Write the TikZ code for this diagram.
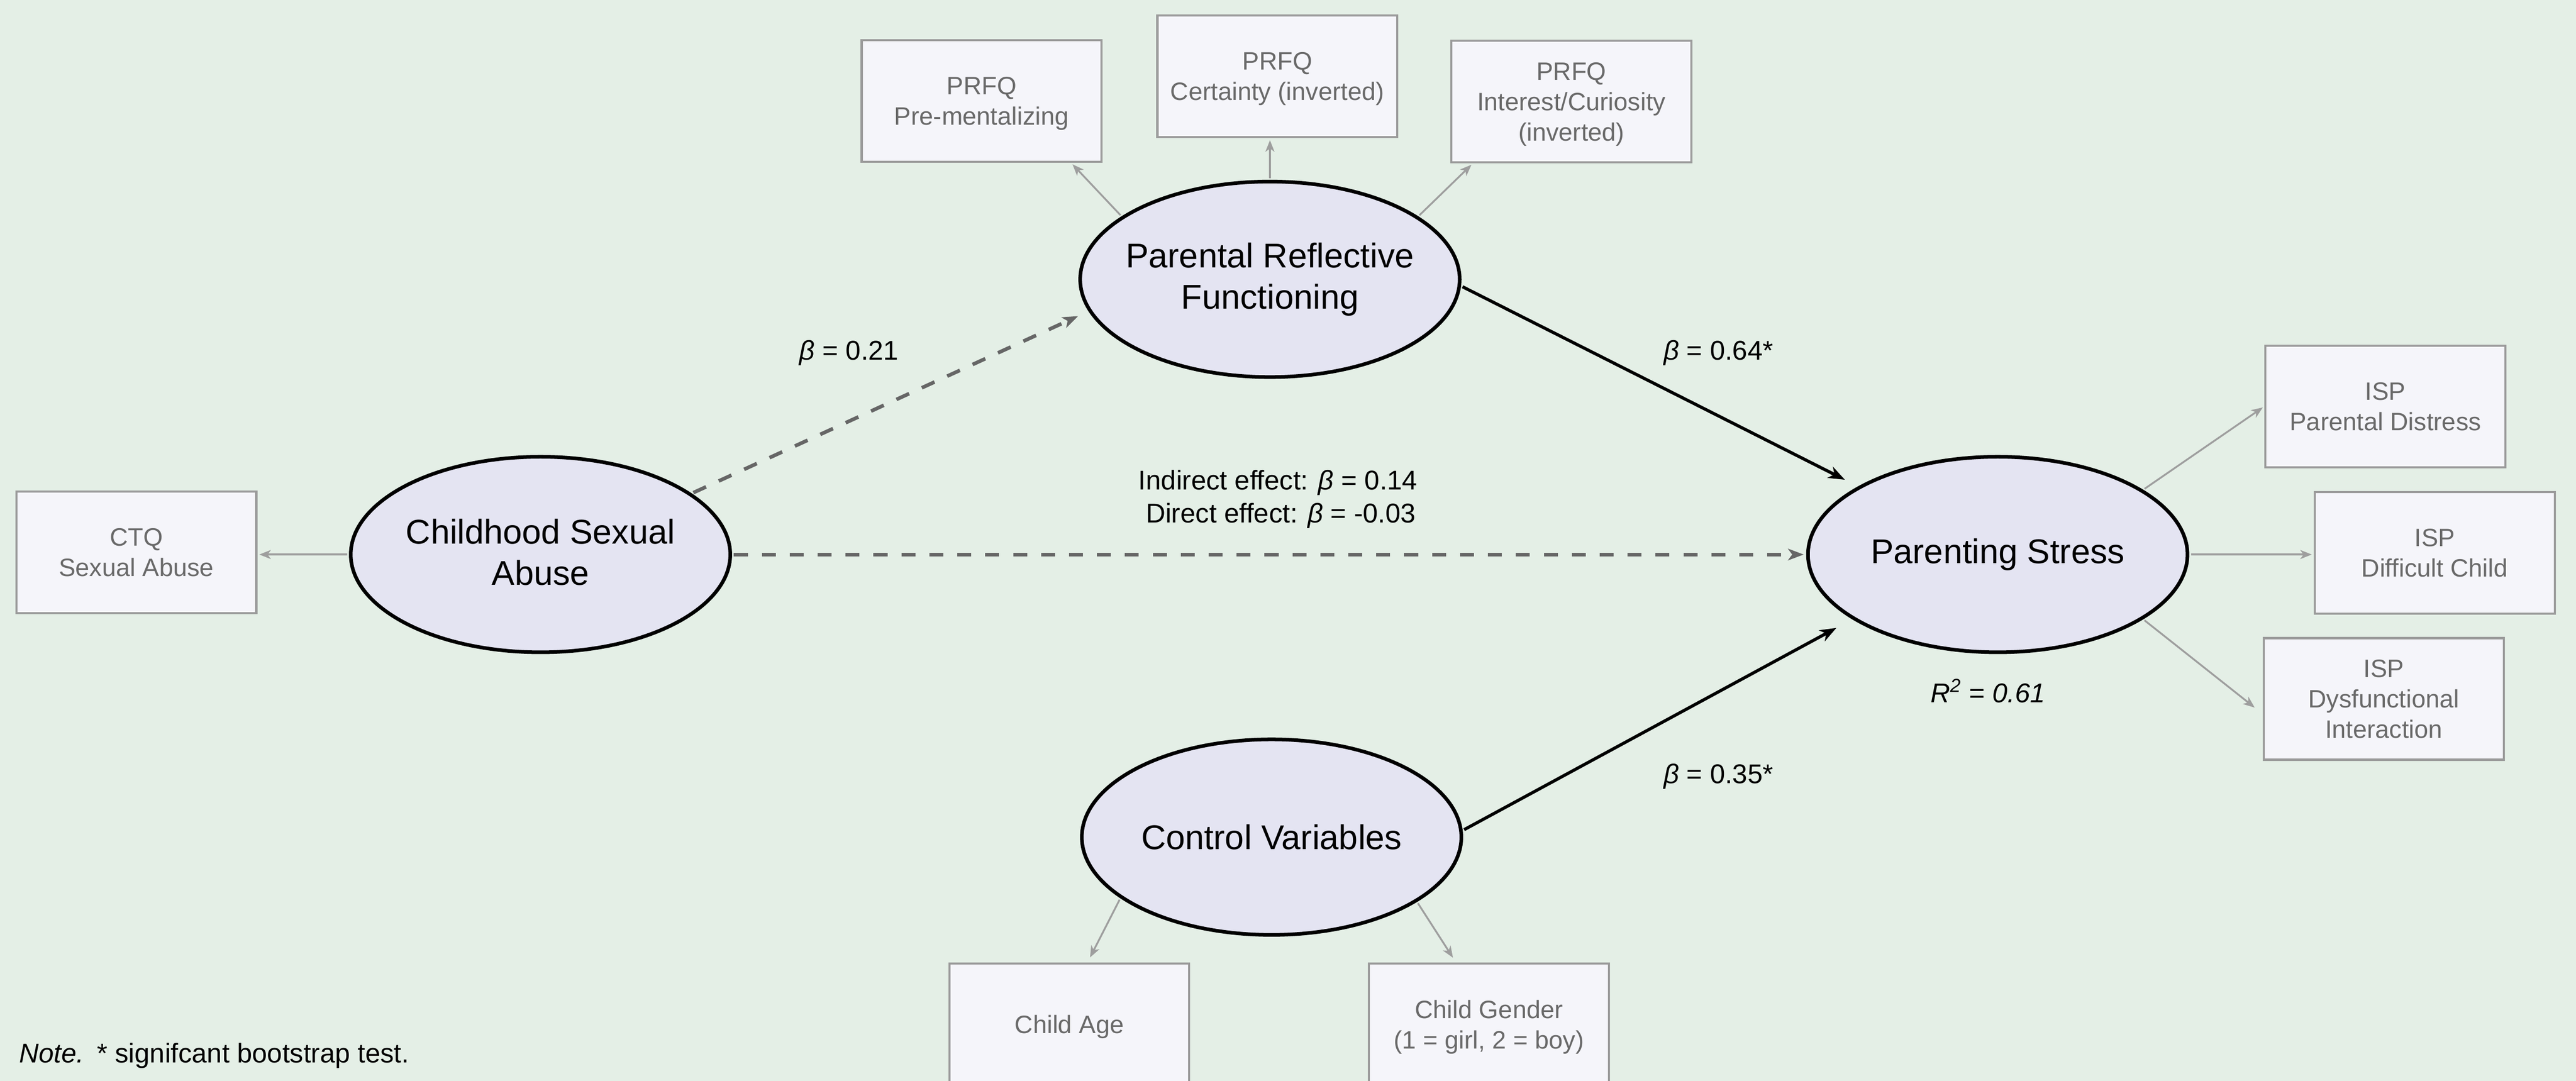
\documentclass[tikz,border=0pt]{standalone}
\usepackage{fontspec}
\setmainfont{Liberation Sans}
\usetikzlibrary{shapes.geometric,arrows.meta,calc}
\definecolor{bgcol}{RGB}{228,239,230}
\definecolor{latfill}{RGB}{228,228,242}
\definecolor{boxfill}{RGB}{245,245,250}
\definecolor{boxline}{RGB}{155,155,155}
\definecolor{boxtext}{RGB}{105,105,105}
\definecolor{arrgrey}{RGB}{158,158,158}
\definecolor{dashcol}{RGB}{102,102,102}
\begin{document}
\begin{tikzpicture}[x=1pt,y=-1pt,
  latent/.style={ellipse, draw=black, line width=2.2pt, fill=latfill,
    minimum width=231pt, minimum height=119pt, inner sep=0pt},
  lattext/.style={font=\fontsize{20.9}{25}\selectfont, align=center,
    inner sep=0pt, text=black},
  obs/.style={rectangle, draw=boxline, line width=1.3pt, fill=boxfill,
    minimum width=146pt, minimum height=74pt, inner sep=0pt, align=center,
    text=boxtext, font=\fontsize{15.3}{18.5}\selectfont, text depth=0pt},
  loadarrow/.style={draw=arrgrey, line width=1.1pt, shorten <=1pt, shorten >=1.2pt,
    -{Stealth[length=7pt,width=5.5pt,inset=2pt]}},
  regpath/.style={draw=black, line width=1.9pt, shorten <=1pt,
    -{Stealth[length=10pt,width=7.5pt,inset=3pt]}},
  dashpath/.style={draw=dashcol, line width=2.2pt, shorten <=1.1pt,
    dash pattern=on 8.5pt off 8.5pt,
    -{Stealth[length=9.5pt,width=7pt,inset=2.5pt]}},
  lab/.style={font=\fontsize{16.5}{20.3}\selectfont, inner sep=0pt, text=black}]

\useasboundingbox (0,0) rectangle (1568,657.9);
\clip (0,0) rectangle (1568,657.9);
\fill[bgcol] (0,0) rectangle (1568,657.9);

% latent variables
\node[latent] (prf) at (773,170) {};
\node[lattext] (prft) at (prf.center) {Parental Reflective\\Functioning};
\node[latent] (csa) at (329,337.5) {};
\node[lattext] (csat) at ([yshift=1.5pt]csa.center) {Childhood Sexual\\Abuse};
\node[latent] (ps) at (1216,337.5) {};
\node[lattext] (pst) at (ps.center) {Parenting Stress};
\node[latent] (cv) at (774,509.5) {};
\node[lattext] (cvt) at (cv.center) {Control Variables};

% indicators
\node[obs] (pm) at (597.5,61.5) {PRFQ\\Pre-mentalizing};
\node[obs] (cert) at (777.5,46.5) {PRFQ\\Certainty (inverted)};
\node[obs] (int) at (956.5,61.8) {PRFQ\\Interest/Curiosity\\(inverted)};
\node[obs] (ctq) at (83,336.3) {CTQ\\Sexual Abuse};
\node[obs] (pd) at (1452,247.3) {ISP\\Parental Distress};
\node[obs] (dc) at (1482,336.5) {ISP\\Difficult Child};
\node[obs] (di) at (1451,425.4) {ISP\\Dysfunctional\\Interaction};
\node[obs] (age) at (650.9,623.5) {Child Age};
\node[obs] (gen) at (906.3,623.5) {Child Gender\\(1 = girl, 2 = boy)};

% loadings
\draw[loadarrow] (prf.157) -- ([xshift=54.5pt]pm.south);
\draw[loadarrow] (prf.north) -- (prf.north |- cert.south);
\draw[loadarrow] (prf.23) -- ([xshift=-60pt]int.south);
\draw[loadarrow] (csa.west) -- (csa.west -| ctq.east);
\draw[loadarrow] (ps.24) -- (pd.west);
\draw[loadarrow] (ps.east) -- (ps.east -| dc.west);
\draw[loadarrow] (ps.-24) -- ([shift={(-4pt,-6pt)}]di.west);
\draw[loadarrow, shorten >=3.5pt] (cv.202.6) -- ([xshift=11pt]age.north);
\draw[loadarrow, shorten >=3.5pt] (cv.-24.3) -- ([xshift=-20pt]gen.north);

% structural paths
\draw[dashpath, shorten >=7pt] (csa.22.6) -- (prf.190);
\draw[dashpath, shorten >=1.5pt] (csa.east) -- (ps.west);
\draw[regpath, shorten >=9pt] (prf.-2) -- (ps.154);
\draw[regpath, shorten >=11pt] (cv.2) -- (ps.204.8);

% labels
\node[lab, anchor=base] (b1) at (516.8,219.1) {\textit{β} = 0.21};
\node[lab, anchor=base] (b2) at (1046,219.1) {\textit{β} = 0.64*};
\node[lab, anchor=base] (b3) at (1046,476.9) {\textit{β} = 0.35*};
\node[lab, anchor=base] (r2) at (1210,427.5) {\textit{R\textsuperscript{2} = 0.61}};
\node[lab, anchor=base east] (ind) at (863,298) {Indirect effect: \textit{β} = 0.14};
\node[lab, anchor=base east] (dir) at (862,318.3) {Direct effect: \textit{β} = -0.03};
\node[lab, anchor=base west] (note) at (11.5,646.7) {\textit{Note.}\hspace{8pt}* signifcant bootstrap test.};
\end{tikzpicture}
\end{document}
